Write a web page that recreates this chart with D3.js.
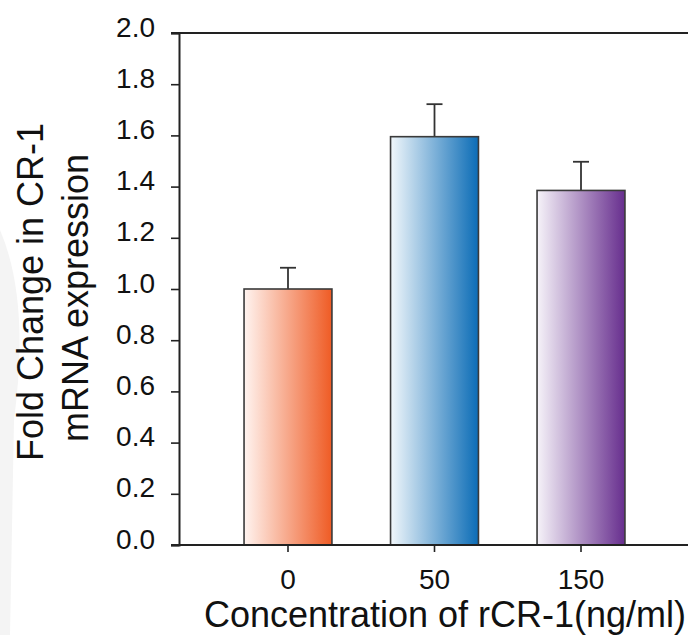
<!DOCTYPE html>
<html lang="en">
<head>
    <meta charset="UTF-8">
    <title>Fold change in CR-1 mRNA</title>
    <style>
        body { margin: 0; background: #fff; }
        svg { display: block; font-family: "Liberation Sans", Arial, sans-serif; }
    </style>
</head>
<body>
    <svg id="chart" width="688" height="635"></svg>
    <script src="https://d3js.org/d3.v7.min.js"></script>
    <script>
        // data
        const doses = ["0", "50", "150"];
        const foldChange = [1.0, 1.595, 1.385];
        const errUp = [0.083, 0.127, 0.112];
        const yTicks = [0, 0.2, 0.4, 0.6, 0.8, 1.0, 1.2, 1.4, 1.6, 1.8, 2.0];
        const barColors = [
            ["#fff4f0", "#ef5b24"],
            ["#f1f7fb", "#0b6cb6"],
            ["#f6f3f9", "#672e8e"]
        ];

        const plotLeft = 179, plotRight = 690, plotTop = 33, plotBottom = 545;

        const svg = d3.select("#chart");

        // faint watermark at the left edge
        svg.append("path")
            .attr("d", "M0,230 Q30,300 14,420 L10,635 L0,635 Z")
            .attr("fill", "#f4f4f4");

        const x = d3.scaleBand()
            .domain(doses)
            .range([plotLeft, plotRight])
            .paddingInner(0.4)
            .paddingOuter(0.444);

        const y = d3.scaleLinear()
            .domain([0, 2])
            .range([plotBottom, plotTop]);

        const defs = svg.append("defs");
        barColors.forEach(function (c, i) {
            const g = defs.append("linearGradient")
                .attr("id", "grad" + i)
                .attr("x1", "0%").attr("x2", "100%")
                .attr("y1", "0%").attr("y2", "0%");
            g.append("stop").attr("offset", "0%").attr("stop-color", c[0]);
            g.append("stop").attr("offset", "100%").attr("stop-color", c[1]);
        });

        const bars = doses.map(function (d, i) {
            return {dose: d, value: foldChange[i], err: errUp[i], idx: i};
        });

        // error bars (upper only), drawn under the bars
        const errG = svg.append("g")
            .attr("stroke", "#333")
            .attr("stroke-width", 1.8);
        errG.selectAll("line.stem")
            .data(bars)
            .join("line")
            .attr("class", "stem")
            .attr("x1", d => x(d.dose) + x.bandwidth() / 2)
            .attr("x2", d => x(d.dose) + x.bandwidth() / 2)
            .attr("y1", d => y(d.value))
            .attr("y2", d => y(d.value + d.err));
        errG.selectAll("line.cap")
            .data(bars)
            .join("line")
            .attr("class", "cap")
            .attr("x1", d => x(d.dose) + x.bandwidth() / 2 - 8)
            .attr("x2", d => x(d.dose) + x.bandwidth() / 2 + 8)
            .attr("y1", d => y(d.value + d.err))
            .attr("y2", d => y(d.value + d.err));

        svg.append("g")
            .selectAll("rect")
            .data(bars)
            .join("rect")
            .attr("x", d => x(d.dose))
            .attr("width", x.bandwidth())
            .attr("y", d => y(d.value))
            .attr("height", d => y(0) - y(d.value))
            .attr("fill", d => "url(#grad" + d.idx + ")")
            .attr("stroke", "#3a3a3a")
            .attr("stroke-width", 1.6);

        // frame: top line
        svg.append("line")
            .attr("x1", plotLeft - 8).attr("x2", plotRight)
            .attr("y1", plotTop).attr("y2", plotTop)
            .attr("stroke", "#222").attr("stroke-width", 2);

        const yAxis = svg.append("g")
            .attr("transform", "translate(" + plotLeft + ",0)")
            .call(d3.axisLeft(y).tickValues(yTicks).tickFormat(d3.format(".1f")).tickSize(8).tickPadding(16));

        const xAxis = svg.append("g")
            .attr("transform", "translate(0," + plotBottom + ")")
            .call(d3.axisBottom(x).tickSize(7).tickPadding(17));

        // bottom line reaches past the y axis like the reference
        xAxis.select(".domain").attr("d", "M" + (plotLeft - 8) + ",0H" + plotRight);

        [yAxis, xAxis].forEach(function (a) {
            a.select(".domain").attr("stroke", "#222").attr("stroke-width", 2);
            a.selectAll(".tick line").attr("stroke", "#222").attr("stroke-width", 1.6);
            a.selectAll(".tick text")
                .attr("fill", "#111")
                .attr("font-family", "Liberation Sans, Arial, sans-serif")
                .attr("font-size", 28);
        });
        // labels sit a little above their ticks in the reference
        yAxis.selectAll(".tick text").attr("dy", "0.11em");

        svg.append("text")
            .attr("x", 445).attr("y", 627)
            .attr("text-anchor", "middle")
            .attr("font-size", 36)
            .attr("fill", "#111")
            .text("Concentration of rCR-1(ng/ml)");

        const yTitle = svg.append("text")
            .attr("transform", "translate(0,294) rotate(-90)")
            .attr("text-anchor", "middle")
            .attr("font-size", 36)
            .attr("fill", "#111");
        yTitle.append("tspan").attr("x", 2).attr("y", 43).text("Fold Change in CR-1");
        yTitle.append("tspan").attr("x", -4).attr("y", 88).text("mRNA expression");
    </script>
</body>
</html>
